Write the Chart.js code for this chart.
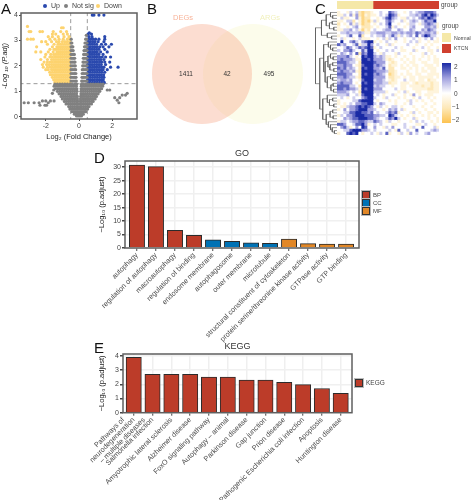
<!DOCTYPE html>
<html>
<head>
<meta charset="utf-8">
<title>Figure</title>
<script src="https://cdn.jsdelivr.net/npm/chart.js@4"></script>
<style>
    html, body { margin: 0; padding: 0; background: #fff; }
    body { width: 472px; height: 500px; position: relative; overflow: hidden; font-family: "Liberation Sans", Arial, sans-serif; }
    canvas { position: absolute; }
    .letter { position: absolute; font-size: 15px; line-height: 15px; color: #111; }
    .txt { position: absolute; font-size: 6.5px; line-height: 8px; color: #444; white-space: nowrap; }
    .swatch { position: absolute; box-sizing: border-box; border: 1px solid #333; outline: 1px solid #bbb; }
    .flat { position: absolute; }
    .dot { position: absolute; width: 4px; height: 4px; border-radius: 50%; top: 4px; }
</style>
</head>
<body>
<canvas id="volcano" width="160" height="141" style="left:0;top:0"></canvas>
<canvas id="venn" width="170" height="145" style="left:150px;top:0"></canvas>
<canvas id="annot" width="102" height="8" style="left:337px;top:1px"></canvas>
<canvas id="dendro" width="22" height="124" style="left:315px;top:11px"></canvas>
<canvas id="heat" width="102" height="124" style="left:337px;top:11px"></canvas>
<canvas id="go" width="472" height="205" style="left:0;top:145px"></canvas>
<canvas id="kegg" width="472" height="160" style="left:0;top:340px"></canvas>

<div class="letter" style="left:1px;top:1px">A</div>
<div class="letter" style="left:147px;top:1px">B</div>
<div class="letter" style="left:315px;top:1px">C</div>
<div class="letter" style="left:94px;top:150px">D</div>
<div class="letter" style="left:94px;top:340px">E</div>

<div class="dot" style="left:43px;background:#2a49ae"></div>
<div class="txt" style="left:51px;top:2px;font-size:7px">Up</div>
<div class="dot" style="left:64px;background:#808080"></div>
<div class="txt" style="left:72px;top:2px;font-size:7px">Not sig</div>
<div class="dot" style="left:96px;background:#fdd36f"></div>
<div class="txt" style="left:104px;top:2px;font-size:7px">Down</div>

<div class="txt" style="left:441px;top:1px">group</div>
<div class="txt" style="left:442px;top:22px">group</div>
<div class="flat" style="left:442px;top:33px;width:9px;height:9px;background:#f5e8a8"></div>
<div class="flat" style="left:442px;top:44px;width:9px;height:9px;background:#d0402f"></div>
<div class="txt" style="left:454px;top:34px;font-size:5.2px">Normal</div>
<div class="txt" style="left:454px;top:44px;font-size:5.2px">KTCN</div>
<div class="flat" style="left:442px;top:63px;width:9px;height:60px;background:linear-gradient(#1a2aa5 0%,#a0a0de 25%,#fff 50%,#fde8b8 75%,#fdc350 100%)"></div>
<div class="txt" style="left:454px;top:63px">2</div>
<div class="txt" style="left:454px;top:76px">1</div>
<div class="txt" style="left:454px;top:90px">0</div>
<div class="txt" style="left:452px;top:103px">−1</div>
<div class="txt" style="left:452px;top:116px">−2</div>

<div class="swatch" style="left:362px;top:191px;width:8px;height:8px;background:#bc3c29"></div>
<div class="swatch" style="left:362px;top:199px;width:8px;height:8px;background:#0072b5"></div>
<div class="swatch" style="left:362px;top:207px;width:8px;height:8px;background:#e18727"></div>
<div class="txt" style="left:373px;top:191px;font-size:6px">BP</div>
<div class="txt" style="left:373px;top:199px;font-size:6px">CC</div>
<div class="txt" style="left:373px;top:207px;font-size:6px">MF</div>
<div class="swatch" style="left:355px;top:379px;width:8px;height:8px;background:#bc3c29"></div>
<div class="txt" style="left:366px;top:379px">KEGG</div>

<script>
const upRows = [
    [1.35, .55, .68, .82, .96, 1.1, 1.24, 1.38, 1.52],
    [1.45, .52, .65, .78, .92, 1.06, 1.2, 1.34, 1.46],
    [1.55, .55, .68, .82, .96, 1.1, 1.24, 1.38, 1.5],
    [1.65, .52, .65, .78, .92, 1.06, 1.2, 1.34, 1.48],
    [1.75, .55, .68, .82, .96, 1.1, 1.24, 1.38, 1.55],
    [1.85, .52, .65, .78, .92, 1.06, 1.2, 1.34, 1.45, 1.7],
    [1.95, .55, .68, .82, .96, 1.1, 1.24, 1.38, 1.5, 1.9, 2.35],
    [2.05, .52, .65, .78, .92, 1.06, 1.2, 1.34, 1.6],
    [2.15, .55, .68, .82, .96, 1.1, 1.24, 1.36, 1.55, 1.85],
    [2.25, .52, .65, .78, .92, 1.06, 1.2, 1.32, 1.5],
    [2.35, .55, .68, .82, .96, 1.1, 1.24, 1.4, 1.6, 1.9],
    [2.45, .52, .65, .78, .92, 1.06, 1.2, 1.45],
    [2.55, .55, .68, .82, .96, 1.1, 1.3, 1.7],
    [2.65, .52, .65, .78, .92, 1.06, 1.2, 1.55],
    [2.75, .55, .68, .82, .96, 1.1, 1.25, 1.45, 1.8],
    [2.85, .52, .65, .78, .92, 1.06, 1.35, 1.6, 1.95],
    [2.95, .55, .68, .82, .96, 1.15, 1.5],
    [3.05, .58, .72, .86, 1.0, 1.2, 1.55],
    [3.15, .6, .78, 1.55],
    [3.25, .55, .75],
    [3.3, .62],
    [4.0, .8, .9, 1.2, 1.5]
];
const downRows = [
    [1.35, -.55, -.68, -.81, -.94, -1.07, -1.2, -1.33, -1.45],
    [1.45, -.6, -.74, -.87, -1, -1.13, -1.26, -1.39, -1.52],
    [1.55, -.55, -.68, -.81, -.94, -1.07, -1.2, -1.33, -1.46, -1.6],
    [1.65, -.6, -.74, -.87, -1, -1.13, -1.26, -1.39, -1.52, -1.65, -1.72],
    [1.75, -.55, -.68, -.81, -.94, -1.07, -1.2, -1.33, -1.46, -1.6, -1.76],
    [1.85, -.6, -.74, -.87, -1, -1.13, -1.26, -1.39, -1.52, -1.65, -1.85, -2.0],
    [1.95, -.55, -.68, -.81, -.94, -1.07, -1.2, -1.33, -1.46, -1.6, -1.74, -1.9, -2.15],
    [2.05, -.6, -.74, -.87, -1, -1.13, -1.26, -1.39, -1.52, -1.65, -1.8, -1.95, -2.2],
    [2.15, -.55, -.68, -.81, -.94, -1.07, -1.2, -1.33, -1.46, -1.6, -1.74, -1.9, -2.1],
    [2.25, -.6, -.74, -.87, -1, -1.13, -1.26, -1.39, -1.52, -1.65, -1.9, -2.3],
    [2.35, -.55, -.68, -.81, -.94, -1.07, -1.2, -1.33, -1.46, -1.6, -1.75, -2.05],
    [2.45, -.6, -.74, -.87, -1, -1.13, -1.26, -1.39, -1.52, -1.7, -2.0],
    [2.55, -.55, -.68, -.81, -.94, -1.07, -1.2, -1.33, -1.55, -1.85, -2.3, -2.6],
    [2.65, -.6, -.74, -.87, -1, -1.13, -1.26, -1.39, -1.5, -1.75],
    [2.75, -.55, -.68, -.81, -.94, -1.07, -1.2, -1.33, -1.6, -2.55],
    [2.85, -.6, -.74, -.87, -1, -1.13, -1.26, -1.5, -1.9],
    [2.95, -.55, -.7, -.85, -1, -1.2, -1.35, -1.65, -2.0, -2.25],
    [3.05, -.55, -.7, -.95, -1.2, -1.45, -1.75, -2.75, -2.9, -3.1],
    [3.15, -.6, -.9, -1.25, -1.6, -1.85],
    [3.25, -.7, -.95, -1.4, -1.6],
    [3.35, -.75, -1.1, -1.55, -2.2, -2.35, -2.9, -3.0],
    [3.5, -1.05, -.95],
    [3.55, -3.1]
];
const greyRows = [
    [.03, -.15, -.05, .05, .15],
    [.1, -.28, -.18, -.08, 0, .08, .18, .26],
    [.2, -.42, -.3, -.18, -.06, .06, .18, .3, .4],
    [.3, -.55, -.42, -.3, -.18, -.07, .07, .18, .3, .42, .52],
    [.4, -.62, -.5, -.38, -.26, -.14, -.06, .06, .14, .26, .38, .5, .6],
    [.5, -.78, -.65, -.52, -.4, -.28, -.16, -.07, .07, .16, .28, .4, .52, .65, .75],
    [.6, -.88, -.75, -.62, -.5, -.38, -.26, -.14, -.07, .07, .14, .26, .38, .5, .62, .75, .85],
    [.7, -1, -.86, -.73, -.6, -.47, -.34, -.22, -.09, .09, .22, .34, .47, .6, .73, .86, .97],
    [.8, -1.08, -.95, -.82, -.69, -.56, -.43, -.3, -.18, -.1, .1, .18, .3, .43, .56, .69, .82, .95, 1.05],
    [.9, -1.2, -1.06, -.93, -.8, -.67, -.54, -.41, -.28, -.15, .12, .24, .37, .5, .63, .76, .89, 1.02, 1.15],
    [1.0, -1.3, -1.16, -1.03, -.9, -.77, -.64, -.51, -.38, -.25, -.12, .12, .25, .38, .51, .64, .77, .9, 1.03, 1.16, 1.25],
    [1.1, -1.42, -1.28, -1.14, -1, -.87, -.74, -.61, -.48, -.35, -.22, -.13, .13, .22, .35, .48, .61, .74, .87, 1, 1.14, 1.28, 1.36],
    [1.2, -1.5, -1.36, -1.22, -1.08, -.95, -.82, -.69, -.56, -.43, -.3, -.16, .14, .27, .4, .53, .66, .79, .92, 1.05, 1.18, 1.31, 1.42],
    [1.28, -1.45, -1.3, -1.15, -1, -.85, -.7, -.55, -.4, -.25, -.15, .15, .25, .4, .55, .7, .85, 1, 1.15, 1.3, 1.45],
    [1.4, -.48, -.36, -.24, -.16, .16, .24, .36, .48],
    [1.55, -.48, -.36, -.26, -.18, .18, .26, .36, .48],
    [1.7, -.48, -.37, -.27, -.19, .19, .27, .37, .48],
    [1.85, -.48, -.38, -.28, -.2, .2, .28, .38, .48],
    [2.0, -.48, -.38, -.29, -.22, .22, .29, .38, .48],
    [2.15, -.48, -.39, -.3, -.24, .24, .3, .39, .48],
    [2.3, -.48, -.4, -.32, -.26, .26, .32, .4, .48],
    [2.45, -.48, -.41, -.33, -.28, .28, .33, .41, .48],
    [2.6, -.48, -.42, -.35, .3, .35, .42, .48],
    [2.75, -.48, -.42, -.37, .33, .38, .44, .48],
    [2.9, -.48, -.43, .36, .42, .48],
    [3.05, -.47, .4, .46],
    [3.2, .44],
    [.55, -3.3, -3.05, -2.7, -2.4, -1.85],
    [.45, -2.35, -2.05, -1.95],
    [.62, -2.2, -2.0, -1.72, -1.5],
    [.75, 2.15, 2.45],
    [.65, 2.3],
    [.55, 2.4],
    [.85, 2.6, 2.8],
    [.92, 2.9, -1.6],
    [1.05, 1.7, 1.85, -1.52]
];
const volcanoXTicks = [-2, 0, 2];
const volcanoYTicks = [0, 1, 2, 3, 4];
const foldCutoffs = [-0.5, 0.5];
const padjCutoff = 1.3;

const vennSets = ['DEGs', 'ARGs'];
const vennCounts = [1411, 42, 495];

// Heatmap levels 0..8 mean -2..2 in half steps, 4 is zero. First 12 columns are Normal.
const heatRows = [
    '344354521223 4454476544345456677764',
    '335463621323 3454587634445565786875',
    '453344631224 4345786543354546768764',
    '334552431213 5344675445345654576684',
    '243463531224 3454684434435543567653',
    '344345642223 4344573544345644466563',
    '335564531324 5445664465446544657654',
    '455655565335 5666556656566576566563',
    '344574472445 4556457535456474687554',
    '453443453334 4345354644344543454643',
    '484467546788 3434544344345453443433',
    '756445735586 4544353444454434434344',
    '445764576787 3454444543444344543443',
    '546675447588 4344545443344534443345',
    '465464727688 5435444354443444354344',
    '666754348788 6565334344344344343434',
    '676665338878 6665323443434343443433',
    '777655428888 7666432344343344334433',
    '667664327888 6765423343434334433343',
    '767565428788 6657422443343434343334',
    '676656328888 7666522344434434334334',
    '777664428788 6765412343433433443333',
    '667655328888 6666422334343343333343',
    '566564437888 5665432344543343342334',
    '676664348788 6665523343334323333233',
    '777755428888 5655443443343333233233',
    '776766538788 6664444543344333332233',
    '666545428888 5555344434534433443333',
    '555644537888 4543445344343643433344',
    '454345446788 5443544434344345443434',
    '344445578888 4344434344435434344344',
    '343454667788 5465444344345444434434',
    '433566787876 4354345543444344344344',
    '346466788866 5443465645344434434434',
    '445577887767 4544576734443543443343',
    '354667888777 6655487543434344343434',
    '446567788877 6544576854344534443443',
    '355456677655 7654354434443454544343',
    '776445778634 5454443344544433454434',
    '467534648744 6443546444543544744453',
    '445578886654 5444454374454474444565',
    '344787843445 4354734435436454456444'
];
const heatGroups = ['Normal', 'KTCN'];
const heatGroupSizes = [12, 22];

// Row clustering as nested [height, left, right], a number is a heatmap row
const dendroTree = [1.0,
    [.72,
        [.5, [.3, 0, [.2, 1, 2]], [.35, [.22, 3, 4], [.15, 5, 6]]],
        [.45, 7, [.25, 8, 9]]],
    [.8,
        [.62,
            [.4, 10, [.3, 11, [.2, 12, 13]]],
            [.55,
                [.42, [.3, 14, [.18, 15, 16]], [.33, [.2, 17, 18], [.15, 19, 20]]],
                [.45, [.3, 21, [.2, 22, 23]], [.28, [.18, 24, 25], [.16, 26, 27]]]]],
        [.66,
            [.45, 28, [.35, [.2, 29, 30], [.15, 31, 32]]],
            [.5, [.32, [.2, 33, 34], [.18, 35, 36]], [.4, 37, [.3, 38, [.22, 39, [.12, 40, 41]]]]]]]
];

const goCategories = ['autophagy', 'regulation of autophagy', 'macroautophagy', 'regulation of binding',
    'endosome membrane', 'autophagosome', 'outer membrane', 'microtubule',
    'structural constituent of cytoskeleton', 'protein serine/threonine kinase activity',
    'GTPase activity', 'GTP binding'];
const goValues = [30.8, 30.2, 6.6, 4.7, 3.0, 2.5, 1.9, 1.7, 3.3, 1.6, 1.5, 1.5];
const goClasses = ['BP', 'BP', 'BP', 'BP', 'CC', 'CC', 'CC', 'CC', 'MF', 'MF', 'MF', 'MF'];
const goYTicks = [0, 5, 10, 15, 20, 25, 30];

const keggCategories = [['Pathways of', 'neurodegeneration', '– multiple diseases'], 'Salmonella infection',
    'Amyotrophic lateral sclerosis', 'Alzheimer disease', 'FoxO signaling pathway', 'Autophagy – animal',
    'Parkinson disease', 'Gap junction', 'Prion disease', 'Pathogenic Escherichia coli infection',
    'Apoptosis', 'Huntington disease'];
const keggValues = [3.9, 2.7, 2.7, 2.7, 2.5, 2.5, 2.3, 2.3, 2.14, 1.98, 1.7, 1.36];
const keggYTicks = [0, 1, 2, 3, 4];

const classColors = { BP: '#bc3c29', CC: '#0072b5', MF: '#e18727' };
const FONT = '"Liberation Sans", Arial, sans-serif';

Chart.defaults.font.family = FONT;
Chart.defaults.animation = false;
Chart.defaults.responsive = false;

// Thick panel border like theme_bw
const framePlugin = {
    id: 'frame',
    afterDraw(chart) {
        const a = chart.chartArea;
        const ctx = chart.ctx;
        ctx.save();
        ctx.strokeStyle = '#5f5f5f';
        ctx.lineWidth = 1.5;
        ctx.strokeRect(a.left, a.top, a.right - a.left, a.bottom - a.top);
        ctx.restore();
    }
};

function rowsToPoints(rows) {
    const points = [];
    rows.forEach(row => {
        row.slice(1).forEach(x => points.push({ x: x, y: row[0] }));
    });
    return points;
}

function dashedLine(points) {
    return {
        label: 'cutoff', data: points, showLine: true, pointRadius: 0,
        borderColor: '#9a9a9a', borderWidth: 1, borderDash: [4, 3]
    };
}

function scatterSet(label, rows, color) {
    return {
        label: label, data: rowsToPoints(rows), pointStyle: 'circle', pointRadius: 1.6,
        pointBorderWidth: 0, backgroundColor: color, borderColor: color
    };
}

// Panel A
new Chart(document.getElementById('volcano'), {
    type: 'scatter',
    plugins: [framePlugin],
    data: {
        datasets: [
            scatterSet('Not sig', greyRows, '#808080'),
            scatterSet('Up', upRows, '#2a49ae'),
            scatterSet('Down', downRows, '#fdd36f'),
            dashedLine([{ x: foldCutoffs[0], y: -1 }, { x: foldCutoffs[0], y: 5 }]),
            dashedLine([{ x: foldCutoffs[1], y: -1 }, { x: foldCutoffs[1], y: 5 }]),
            dashedLine([{ x: -4, y: padjCutoff }, { x: 4, y: padjCutoff }])
        ]
    },
    options: {
        layout: { padding: { left: 0, right: 23, top: 13, bottom: 0 } },
        plugins: { tooltip: { enabled: false }, legend: { display: false } },
        scales: {
            x: {
                type: 'linear', min: -3.49, max: 3.49,
                afterBuildTicks: axis => { axis.ticks = volcanoXTicks.map(v => ({ value: v })); },
                afterFit: axis => { axis.height = 22; },
                grid: { drawOnChartArea: false, tickLength: 2, tickColor: '#444' },
                border: { display: false },
                ticks: { font: { size: 7 }, color: '#444', padding: 1, maxRotation: 0 },
                title: { display: true, text: 'Log₂ (Fold Change)', font: { size: 7.5 }, color: '#222', padding: { top: 2, bottom: 0 } }
            },
            y: {
                min: -0.09, max: 4.08,
                afterBuildTicks: axis => { axis.ticks = volcanoYTicks.map(v => ({ value: v })); },
                afterFit: axis => { axis.width = 21; },
                grid: { drawOnChartArea: false, tickLength: 2, tickColor: '#444' },
                border: { display: false },
                ticks: { font: { size: 7 }, color: '#444', padding: 1 },
                title: { display: true, text: '-Log ₁₀ (P.adj)', font: { size: 7.5, style: 'italic' }, color: '#222', padding: 0 }
            }
        }
    }
});

// Panel B, two bubbles plus the counts. The bubble radius insets the chart area by 50px,
// so the scales below run over that inset area and one unit stays one pixel.
const vennPlugin = {
    id: 'vennText',
    afterDatasetsDraw(chart) {
        const ctx = chart.ctx;
        const xs = chart.scales.x;
        const ys = chart.scales.y;
        ctx.save();
        ctx.textAlign = 'center';
        ctx.textBaseline = 'middle';
        ctx.font = '6.5px ' + FONT;
        ctx.fillStyle = '#333';
        vennCounts.forEach((n, i) => ctx.fillText(n, xs.getPixelForValue([36, 77, 119][i]), ys.getPixelForValue(74)));
        ctx.font = '7.5px ' + FONT;
        ctx.fillStyle = '#f8b49a';
        ctx.fillText(vennSets[0], xs.getPixelForValue(33), ys.getPixelForValue(18));
        ctx.fillStyle = '#f1f1bd';
        ctx.fillText(vennSets[1], xs.getPixelForValue(120), ys.getPixelForValue(18));
        ctx.restore();
    }
};
new Chart(document.getElementById('venn'), {
    type: 'bubble',
    plugins: [vennPlugin],
    data: {
        datasets: [
            { label: vennSets[0], data: [{ x: 52, y: 74, r: 50 }], backgroundColor: 'rgba(248,170,140,.4)', borderWidth: 0, clip: false },
            { label: vennSets[1], data: [{ x: 103, y: 74, r: 50 }], backgroundColor: 'rgba(245,245,190,.3)', borderWidth: 0, clip: false }
        ]
    },
    options: {
        plugins: { legend: { display: false }, tooltip: { enabled: false } },
        scales: {
            x: { type: 'linear', min: 50, max: 120, display: false },
            y: { type: 'linear', min: 50, max: 95, reverse: true, display: false }
        }
    }
});

// Panel C
function heatColor(level) {
    const stops = [[253, 195, 80], [253, 232, 184], [255, 255, 255], [160, 160, 222], [26, 42, 165]];
    const t = level / 2;
    const i = Math.min(Math.floor(t), 3);
    const f = t - i;
    const c = [0, 1, 2].map(k => Math.round(stops[i][k] + (stops[i + 1][k] - stops[i][k]) * f));
    return 'rgb(' + c.join(',') + ')';
}

const heatMatrix = heatRows.map(row => row.replace(' ', '').split('').map(Number));
const rowLabels = heatRows.map((row, i) => 'gene' + (i + 1));
const heatDatasets = heatMatrix[0].map((_, col) => ({
    label: 'col' + col,
    data: heatMatrix.map(() => 1),
    backgroundColor: heatMatrix.map(row => heatColor(row[col])),
    borderWidth: 0,
    barPercentage: 1,
    categoryPercentage: 1
}));

new Chart(document.getElementById('heat'), {
    type: 'bar',
    data: { labels: rowLabels, datasets: heatDatasets },
    options: {
        indexAxis: 'y',
        plugins: { legend: { display: false }, tooltip: { enabled: false } },
        scales: {
            x: { stacked: true, min: 0, max: heatMatrix[0].length, display: false },
            y: { stacked: true, display: false }
        }
    }
});

new Chart(document.getElementById('annot'), {
    type: 'bar',
    data: {
        labels: ['group'],
        datasets: [
            { label: heatGroups[0], data: [heatGroupSizes[0]], backgroundColor: '#f5e8a8', barPercentage: 1, categoryPercentage: 1, borderWidth: 0 },
            { label: heatGroups[1], data: [heatGroupSizes[1]], backgroundColor: '#d0402f', barPercentage: 1, categoryPercentage: 1, borderWidth: 0 }
        ]
    },
    options: {
        indexAxis: 'y',
        plugins: { legend: { display: false }, tooltip: { enabled: false } },
        scales: {
            x: { stacked: true, min: 0, max: heatGroupSizes[0] + heatGroupSizes[1], display: false },
            y: { stacked: true, display: false }
        }
    }
});

// Walk the tree into line pieces, gaps are NaN points
const dendroPoints = [];
function walkTree(node) {
    if (typeof node === 'number') {
        return { h: 0, row: node };
    }
    const a = walkTree(node[1]);
    const b = walkTree(node[2]);
    const gap = { x: NaN, y: NaN };
    dendroPoints.push({ x: a.h, y: a.row }, { x: node[0], y: a.row }, { x: node[0], y: b.row }, { x: b.h, y: b.row }, gap);
    return { h: node[0], row: (a.row + b.row) / 2 };
}
walkTree(dendroTree);

new Chart(document.getElementById('dendro'), {
    type: 'scatter',
    data: {
        datasets: [{
            data: dendroPoints, showLine: true, spanGaps: false, pointRadius: 0,
            borderColor: '#555', borderWidth: 0.6
        }]
    },
    options: {
        plugins: { legend: { display: false }, tooltip: { enabled: false } },
        scales: {
            x: { type: 'linear', min: 0, max: 1.02, reverse: true, display: false },
            y: { type: 'linear', min: -0.5, max: 41.5, reverse: true, display: false }
        }
    }
});

// Panels D and E share the same look. A category given as an array is spread over
// three labels around its tick, the way the wrapped KEGG name sits in the figure.
function enrichmentChart(id, cfg) {
    const majors = cfg.yTicks;
    const step = majors[1] - majors[0];
    const yTicks = [];
    majors.forEach(v => {
        yTicks.push({ value: v });
        yTicks.push({ value: v + step / 2 });
    });
    const isMajor = v => majors.indexOf(v) >= 0;

    const xLabels = new Map();
    cfg.categories.forEach((c, i) => {
        if (Array.isArray(c)) {
            c.forEach((line, k) => xLabels.set(i + (k - 1) * 0.55, line));
        } else {
            xLabels.set(i, c);
        }
    });
    const xTicks = Array.from(xLabels.keys()).map(v => ({ value: v }));
    // grid options also get resolved without a tick, for the axis border
    const isBarTick = ctx => !ctx.tick || Number.isInteger(ctx.tick.value);
    const isMajorTick = ctx => !ctx.tick || isMajor(ctx.tick.value);

    return new Chart(document.getElementById(id), {
        type: 'bar',
        plugins: [framePlugin],
        data: {
            datasets: [{
                data: cfg.values.map((v, i) => ({ x: i, y: v })),
                backgroundColor: cfg.colors,
                borderColor: '#2b2b2b',
                borderWidth: 1,
                barThickness: 15.3
            }]
        },
        options: {
            layout: { padding: { left: 89, right: cfg.right, top: 0, bottom: 0 } },
            plugins: {
                legend: { display: false },
                tooltip: { enabled: false },
                title: {
                    display: true, text: cfg.title, fullSize: false, color: '#333',
                    font: { size: 9, weight: 'normal' }, padding: cfg.titlePadding
                }
            },
            scales: {
                x: {
                    type: 'linear', min: cfg.xMin, max: cfg.xMax, offset: false,
                    afterBuildTicks: axis => { axis.ticks = xTicks.slice(); },
                    afterFit: axis => { axis.height = cfg.xHeight; },
                    grid: {
                        offset: false,
                        color: ctx => (isBarTick(ctx) ? '#efefef' : 'rgba(0,0,0,0)'),
                        lineWidth: 1.5,
                        tickLength: 3,
                        tickColor: ctx => (isBarTick(ctx) ? '#444' : 'rgba(0,0,0,0)'),
                        tickWidth: 1
                    },
                    border: { display: false },
                    ticks: {
                        autoSkip: false, minRotation: 45, maxRotation: 45, padding: 0, color: '#4a4a4a',
                        font: { size: 7.2 }, callback: v => xLabels.get(v)
                    }
                },
                y: {
                    min: 0, max: cfg.yMax,
                    afterBuildTicks: axis => { axis.ticks = yTicks.filter(t => t.value <= cfg.yMax); },
                    afterFit: axis => { axis.width = cfg.yWidth; },
                    grid: {
                        color: '#f0f0f0',
                        lineWidth: ctx => (isMajorTick(ctx) ? 1.5 : 1),
                        tickLength: 3,
                        tickColor: ctx => (isMajorTick(ctx) ? '#444' : 'rgba(0,0,0,0)')
                    },
                    border: { display: false },
                    ticks: { color: '#444', padding: 1, font: { size: 7 }, callback: v => (isMajor(v) ? v : '') },
                    title: { display: true, text: '−Log₁₀ (p.adjust)', color: '#222', font: { size: 7.5 }, padding: { top: 8, bottom: 0 } }
                }
            }
        }
    });
}

enrichmentChart('go', {
    title: 'GO', categories: goCategories, values: goValues,
    colors: goClasses.map(c => classColors[c]), yTicks: goYTicks, yMax: 32.3,
    xMin: -0.63, xMax: 11.68, right: 113, yWidth: 36, xHeight: 102,
    titlePadding: { top: 3, bottom: 2.2 }
});

enrichmentChart('kegg', {
    title: 'KEGG', categories: keggCategories, values: keggValues,
    colors: keggCategories.map(() => classColors.BP), yTicks: keggYTicks, yMax: 4.13,
    xMin: -0.57, xMax: 11.6, right: 120, yWidth: 34, xHeight: 87.3,
    titlePadding: { top: 1, bottom: 2.2 }
});
</script>
</body>
</html>
